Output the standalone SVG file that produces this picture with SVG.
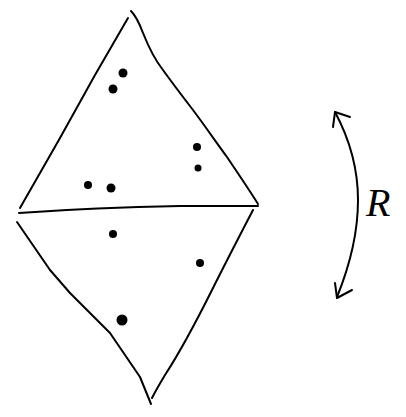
<svg xmlns="http://www.w3.org/2000/svg" width="406" height="417" viewBox="0 0 406 417">
<style>
.ln{fill:none;stroke:#000;stroke-width:2;stroke-linecap:round;stroke-linejoin:round}
.dt{fill:#000}
.lbl{font-family:"Liberation Serif",serif;font-style:italic;font-size:40px;fill:#000}
</style>
<rect width="406" height="417" fill="#fff"/>
<g id="upper-triangle">
<path class="ln" d="M131,11 C137,17 140,25 143,33 C149,48 155,60 163,70 C173,84 183,97 193,110 C205,126 216,142 227,157 C237,172 248,188 258,204"/>
<path class="ln" d="M128,18 L95,75 L60,138 L20,208"/>
</g>
<g id="divider">
<path class="ln" d="M19,213 C60,210 120,207 180,206 C210,206 235,206 258,206"/>
</g>
<g id="lower-triangle">
<path class="ln" d="M17,222 L50,270 L70,293 L110,333 L140,377 L151,404"/>
<path class="ln" d="M253,210 C240,235 226,262 212,290 C196,322 180,352 165,375 C159,385 155,392 152,398"/>
</g>
<g id="points">
<circle class="dt" cx="123" cy="73" r="4.5"/>
<circle class="dt" cx="113" cy="89" r="4.5"/>
<circle class="dt" cx="197" cy="147" r="4"/>
<circle class="dt" cx="198" cy="168" r="3.5"/>
<circle class="dt" cx="88" cy="185" r="4"/>
<circle class="dt" cx="111" cy="188" r="4.5"/>
<circle class="dt" cx="113" cy="234" r="4"/>
<circle class="dt" cx="200" cy="263" r="4"/>
<circle class="dt" cx="122" cy="320" r="5.5"/>
</g>
<g id="connectors">
<path class="ln" d="M335,112 C350,140 358,170 358,200 C358,235 350,265 337,297"/>
<path class="ln" d="M350,117 L335,112 L333,127"/>
<path class="ln" d="M335,283 L337,298 L352,290"/>
</g>
<g id="label">
<text class="lbl" x="366" y="216">R</text>
</g>
</svg>
